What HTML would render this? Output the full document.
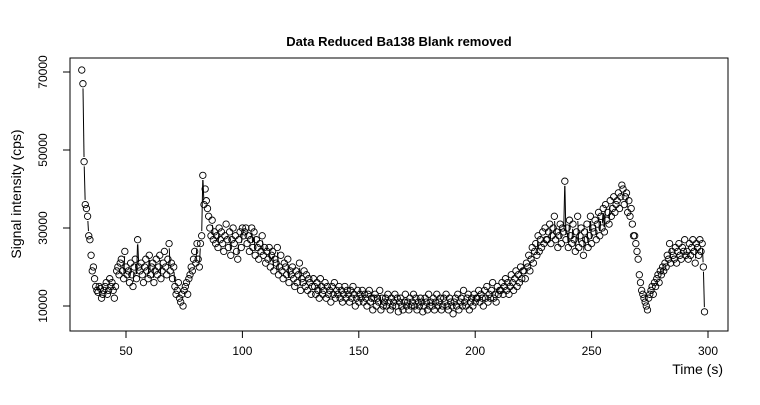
<!DOCTYPE html>
<html><head><meta charset="utf-8"><style>
body{margin:0;background:#fff}
svg{font-family:"Liberation Sans",Arial,sans-serif}
</style></head><body>
<svg id="chart" width="760" height="400" viewBox="0 0 760 400">
<text x="399" y="46" text-anchor="middle" font-weight="bold" font-size="13">Data Reduced Ba138 Blank removed</text>
<rect x="70" y="58" width="658" height="273" fill="none" stroke="#000" stroke-width="1"/>
<text transform="translate(21,194) rotate(-90)" text-anchor="middle" font-size="14">Signal intensity (cps)</text>
<text x="723" y="374" text-anchor="end" font-size="14">Time (s)</text>
<g id="axes"></g>
<g id="marks"></g>
</svg>
<script>
const xTicks=[50,100,150,200,250,300];
const yTicks=[10000,30000,50000,70000];
const tStart=31, tStep=0.5;
const signalK=[
70.5,67,47,36,35,33,28,27,23,19,20,17,15,14,13.5,15,14.5,12,13,14,
15,16,13,14,17,15,16,14,12,15,19,20,18,21,22,19,17,24,20,18,
19,16,21,18,15,20,22,17,27,20,19,21,18,16,20,22,19,17,23,18,
20,21,16,19,22,18,20,23,17,19,21,24,20,18,22,26,19,21,17,20,
15,13,14,16,12,11,13,10,14,15,16,13,17,18,20,19,22,24,21,26,
22,20,26,28,43.5,36,40,37,35,33,30,28,32,27,29,26,28,25,30,27,
29,26,24,28,31,27,25,29,23,27,30,26,28,24,22,27,29,25,30,28,
29,30,26,28,24,27,30,25,29,23,27,25,22,26,24,28,23,25,21,24,
22,25,20,23,24,19,22,21,25,18,20,23,19,17,21,20,18,22,16,19,
18,20,17,15,19,16,18,21,14,17,16,19,15,18,14,17,16,13,15,17,
15,13,16,14,12,17,15,13,14,16,12,15,13,14,11,15,13,16,12,14,
13,15,12,14,11,13,15,12,14,13,11,14,12,15,13,10,12,14,11,13,
12,14,11,13,12,10,13,14,11,12,9,12,13,10,12,11,14,9,12,10,
11,12,10,13,11,9,12,10,11,13,10,12,8.5,11,12,10,9,11,13,10,
11,9,12,10,11,13,10,12,9,11,10,12,11,8.5,10,12,11,9,13,10,
11,10,12,9,11,13,10,11,12,9,10,12,11,13,10,9,12,11,10,8,
11,12,10,13,9,11,12,10,14,11,10,12,13,9,11,12,10,13,11,12,
12,14,11,13,12,10,14,12,15,11,13,12,14,16,12,13,11,15,13,14,
14,16,13,15,17,14,16,13,15,18,16,14,17,19,15,18,16,20,17,19,
19,17,21,20,23,19,22,25,21,24,26,23,28,24,27,25,29,26,30,27,
27,29,31,26,28,30,33,27,29,25,28,31,26,30,29,42,27,30,25,32,
28,26,31,27,24,29,33,25,28,30,26,23,29,27,31,25,28,33,26,30,
29,32,27,31,34,28,33,30,35,29,36,32,34,31,37,33,35,38,34,36,
37,39,35,38,41,40,36,38,39,34,37,33,35,31,28,28,26,24,22,18,
16,14,13,12,11,10,9,12,13,14,15,13,16,15,17,18,16,19,18,20,
19,21,20,23,22,26,21,24,23,22,25,21,24,26,23,22,25,24,27,23,
24,22,26,23,25,27,24,21,26,25,23,27,24,26,20,8.5
];
const NS='http://www.w3.org/2000/svg';
const xs=t=>126+(t-50)*2.328;
const ys=v=>306-(v-10000)*0.0039;
const axes=document.getElementById('axes'), marks=document.getElementById('marks');
function mk(tag,attrs,parent){const e=document.createElementNS(NS,tag);for(const k in attrs)e.setAttribute(k,attrs[k]);parent.appendChild(e);return e;}
const xl=mk('line',{x1:xs(50),x2:xs(300),y1:331,y2:331,stroke:'#000'},axes);


xTicks.forEach(t=>{
  const l=mk('line',{x1:xs(t),x2:xs(t),y1:331,y2:338,stroke:'#000'},axes);
  
  
  const tx=mk('text',{x:xs(t),y:355,'text-anchor':'middle','font-size':12},axes);
  tx.textContent=t;
  
  
});
const yl=mk('line',{x1:70,x2:70,y1:ys(10000),y2:ys(70000),stroke:'#000'},axes);


yTicks.forEach(v=>{
  const l=mk('line',{x1:63,x2:70,y1:ys(v),y2:ys(v),stroke:'#000'},axes);
  
  
  const tx=mk('text',{transform:`translate(47,${ys(v)}) rotate(-90)`,'text-anchor':'middle','font-size':12},axes);
  tx.textContent=v;
  
  
});
const R=3.2;
const pts=signalK.map((k,i)=>[xs(tStart+i*tStep),ys(k*1000)]);
for(let i=1;i<pts.length;i++){
  const [x1,y1]=pts[i-1],[x2,y2]=pts[i];
  const dx=x2-x1,dy=y2-y1,d=Math.hypot(dx,dy);
  if(d>5.5*R){
    const ux=dx/d,uy=dy/d,g=R+1.5;
    const s=mk('line',{x1:x1+ux*g,y1:y1+uy*g,x2:x2-ux*g,y2:y2-uy*g,stroke:'#000','stroke-width':1},marks);
    
    
  }
}
pts.forEach(p=>{
  const c=mk('circle',{cx:p[0],cy:p[1],r:R,fill:'none',stroke:'#000','stroke-width':0.9},marks);
  
  
});
</script>
</body></html>
